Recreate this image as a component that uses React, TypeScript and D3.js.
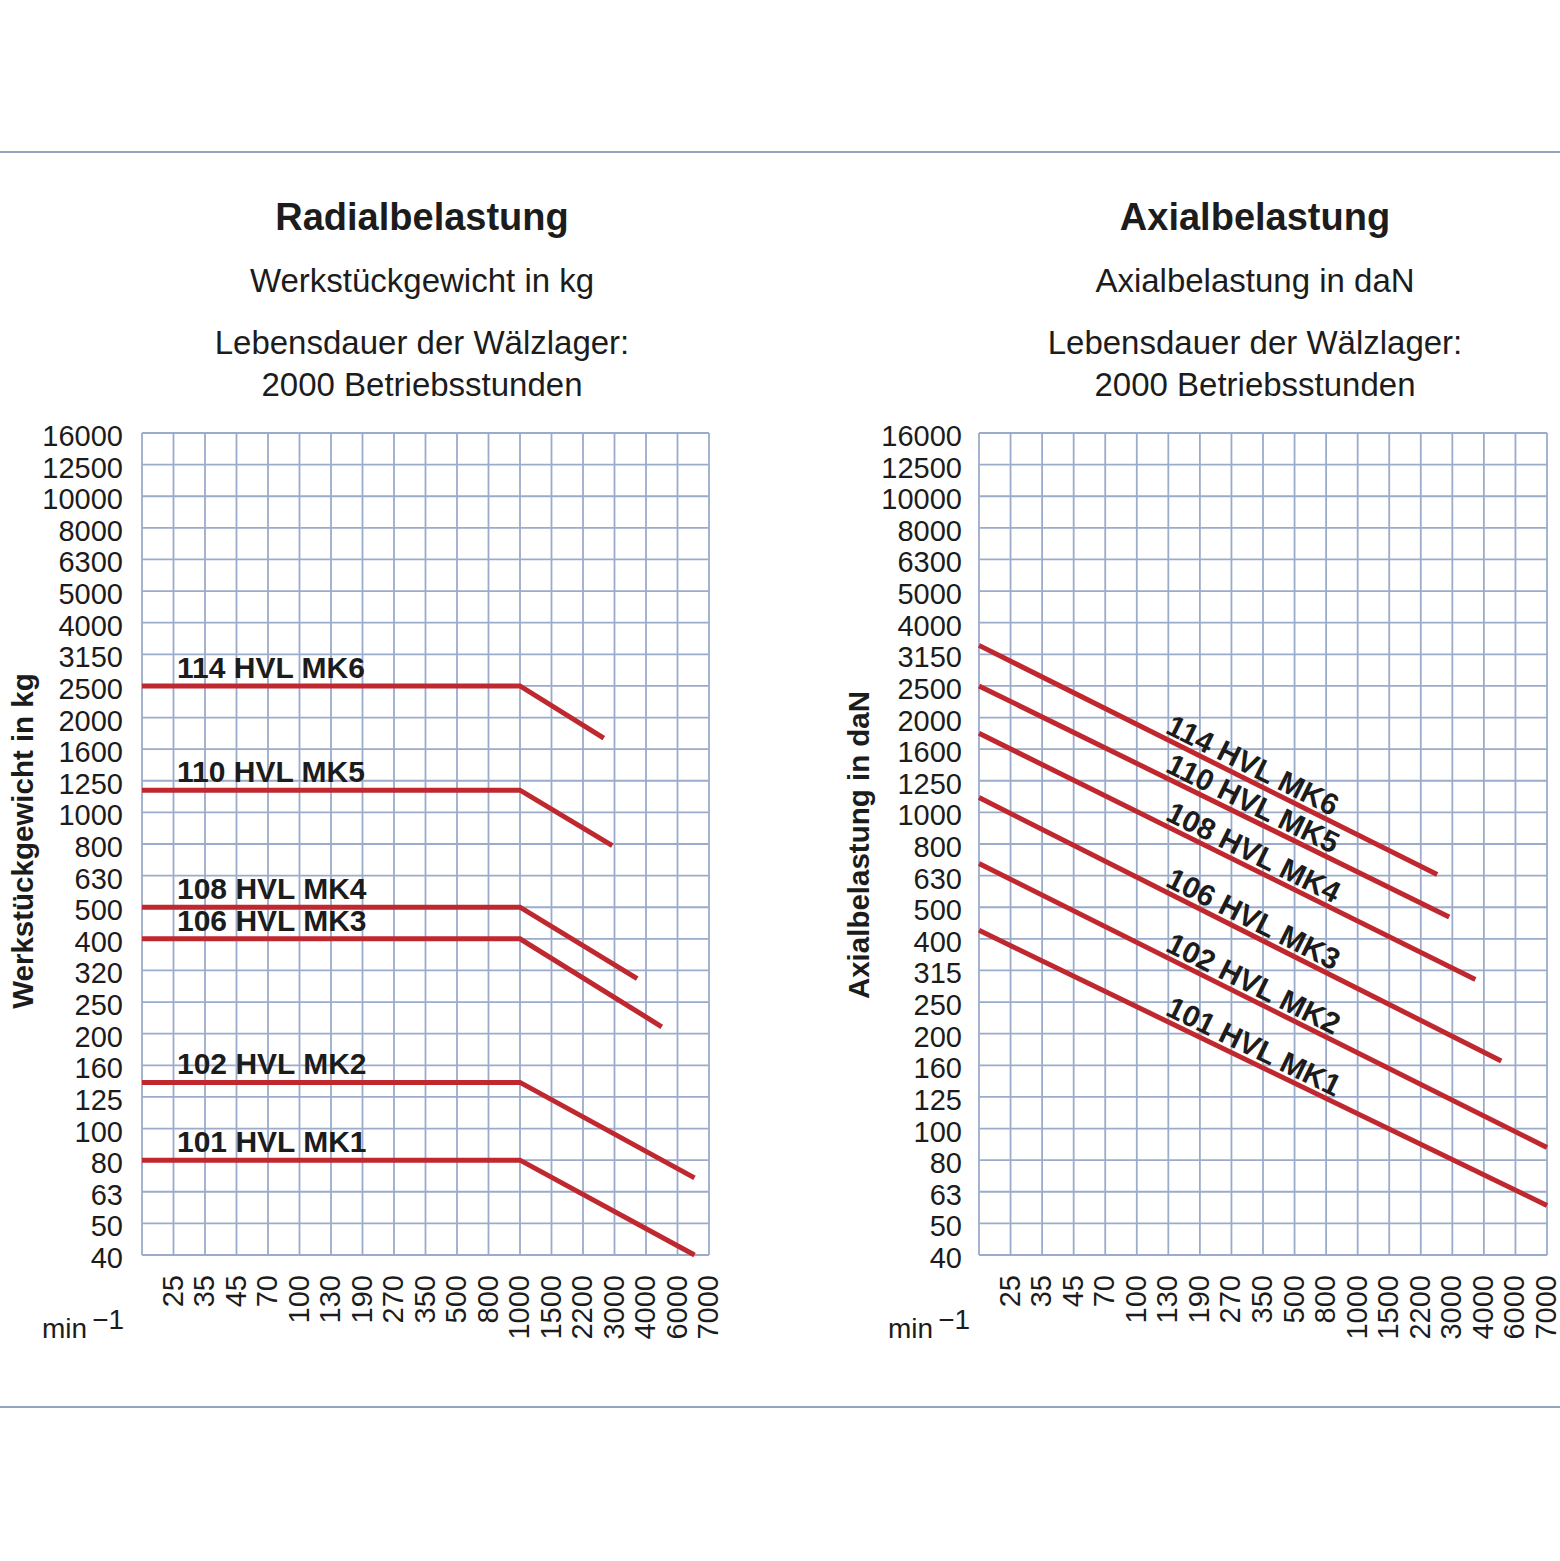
import React from "react";
import * as d3 from "d3";

// ---------- data ----------
const rpmLabels = ["25", "35", "45", "70", "100", "130", "190", "270", "350", "500", "800", "1000", "1500", "2200", "3000", "4000", "6000", "7000"];

const radialTicks = [16000, 12500, 10000, 8000, 6300, 5000, 4000, 3150, 2500, 2000, 1600, 1250, 1000, 800, 630, 500, 400, 320, 250, 200, 160, 125, 100, 80, 63, 50, 40];
const axialTicks = [16000, 12500, 10000, 8000, 6300, 5000, 4000, 3150, 2500, 2000, 1600, 1250, 1000, 800, 630, 500, 400, 315, 250, 200, 160, 125, 100, 80, 63, 50, 40];

const seriesNames = ["114 HVL MK6", "110 HVL MK5", "108 HVL MK4", "106 HVL MK3", "102 HVL MK2", "101 HVL MK1"];

// points: [rpm slot (0 = left edge, 1 = "25", ... 18 = "7000"), load]
const radialMK6 = [[0, 2500], [12, 2500], [14.66, 1730]];
const radialMK5 = [[0, 1170], [12, 1170], [14.93, 790]];
const radialMK4 = [[0, 500], [12, 500], [15.72, 300]];
const radialMK3 = [[0, 400], [12, 400], [16.5, 210]];
const radialMK2 = [[0, 140], [12, 140], [17.54, 70]];
const radialMK1 = [[0, 80], [12, 80], [17.54, 40]];

const axialMK6 = [[0, 3370], [14.52, 635]];
const axialMK5 = [[0, 2500], [14.9, 467]];
const axialMK4 = [[0, 1790], [15.73, 295]];
const axialMK3 = [[0, 1110], [16.55, 165]];
const axialMK2 = [[0, 690], [18, 87.5]];
const axialMK1 = [[0, 425], [18, 57]];

const radialSeries = [radialMK6, radialMK5, radialMK4, radialMK3, radialMK2, radialMK1];
const axialSeries = [axialMK6, axialMK5, axialMK4, axialMK3, axialMK2, axialMK1];

// ---------- style ----------
const W = 1560;
const H = 1561;
const FONT = "'Liberation Sans', Arial, Helvetica, sans-serif";
const RED = "#c0282f";
const GRID = "#9babca";
const TEXT = "#1c1c1c";
const SEP = "#95a3bf";

type PanelProps = {
  left: number;
  right: number;
  top: number;
  bottom: number;
  ticks: number[];
  series: number[][][];
  slanted: boolean;
  cx: number;
  title: string;
  subtitle: string;
  axisTitle: string;
  axisTitleX: number;
  axisTitleY: number;
  yLabelX: number;
  minX: number;
};

function Panel(p: PanelProps) {
  const x = d3.scaleLinear().domain([0, rpmLabels.length]).range([p.left, p.right]);
  const y = d3
    .scaleLog()
    .domain(p.ticks)
    .range(p.ticks.map((_, i) => p.top + (i * (p.bottom - p.top)) / (p.ticks.length - 1)));
  const line = d3
    .line<number[]>()
    .x((d) => x(d[0]))
    .y((d) => y(d[1]));
  const slots = d3.range(0, rpmLabels.length + 1);

  return (
    <g>
      {/* titles */}
      <text x={p.cx} y={230} textAnchor="middle" fontFamily={FONT} fontWeight="bold" fontSize={38} fill={TEXT}>
        {p.title}
      </text>
      <text x={p.cx} y={292} textAnchor="middle" fontFamily={FONT} fontSize={33} fill={TEXT}>
        {p.subtitle}
      </text>
      <text x={p.cx} y={354} textAnchor="middle" fontFamily={FONT} fontSize={33} fill={TEXT}>
        Lebensdauer der Wälzlager:
      </text>
      <text x={p.cx} y={396} textAnchor="middle" fontFamily={FONT} fontSize={33} fill={TEXT}>
        2000 Betriebsstunden
      </text>

      {/* grid */}
      {slots.map((s) => (
        <line key={"v" + s} x1={x(s)} x2={x(s)} y1={p.top} y2={p.bottom} stroke={GRID} strokeWidth={1.8} />
      ))}
      {p.ticks.map((t) => (
        <line key={"h" + t} x1={p.left} x2={p.right} y1={y(t)} y2={y(t)} stroke={GRID} strokeWidth={1.8} />
      ))}

      {/* y tick labels */}
      {p.ticks.map((t) => (
        <text key={"yl" + t} x={p.yLabelX} y={y(t) + 13} textAnchor="end" fontFamily={FONT} fontSize={29} fill={TEXT}>
          {String(t)}
        </text>
      ))}

      {/* x tick labels */}
      {rpmLabels.map((lab, i) => {
        const lx = x(i + 1) + 9;
        const ly = 1275;
        return (
          <text
            key={"xl" + lab}
            x={lx}
            y={ly}
            transform={`rotate(-90 ${lx} ${ly})`}
            textAnchor="end"
            fontFamily={FONT}
            fontSize={29}
            fill={TEXT}
          >
            {lab}
          </text>
        );
      })}

      {/* unit */}
      <text x={p.minX} y={1338} fontFamily={FONT} fontSize={28} fill={TEXT}>
        min
        <tspan dx={5} dy={-9}>
          −1
        </tspan>
      </text>

      {/* axis title */}
      <text
        x={p.axisTitleX}
        y={p.axisTitleY}
        transform={`rotate(-90 ${p.axisTitleX} ${p.axisTitleY})`}
        textAnchor="middle"
        fontFamily={FONT}
        fontWeight="bold"
        fontSize={29.5}
        fill={TEXT}
      >
        {p.axisTitle}
      </text>

      {/* series */}
      {p.series.map((s, i) => (
        <path key={"s" + i} d={line(s) || ""} fill="none" stroke={RED} strokeWidth={5} strokeLinejoin="miter" />
      ))}

      {/* series labels */}
      {p.series.map((s, i) => {
        if (!p.slanted) {
          return (
            <text
              key={"lab" + i}
              x={x(0) + 35}
              y={y(s[0][1]) - 8}
              fontFamily={FONT}
              fontWeight="bold"
              fontSize={30}
              fill={TEXT}
            >
              {seriesNames[i]}
            </text>
          );
        }
        const a = s[0];
        const b = s[s.length - 1];
        const ax = x(a[0]);
        const ay = y(a[1]);
        const bx = x(b[0]);
        const by = y(b[1]);
        const px = x(5.8);
        const py = ay + ((by - ay) * (px - ax)) / (bx - ax);
        const ang = (Math.atan2(by - ay, bx - ax) * 180) / Math.PI;
        return (
          <text
            key={"lab" + i}
            transform={`translate(${px} ${py}) rotate(${ang})`}
            x={0}
            y={-5}
            fontFamily={FONT}
            fontWeight="bold"
            fontSize={30}
            fill={TEXT}
          >
            {seriesNames[i]}
          </text>
        );
      })}
    </g>
  );
}

export default function App() {
  return (
    <div style={{ position: "absolute", left: 0, top: 0, width: W, height: H, background: "#fff" }}>
      <svg width={W} height={H} viewBox={`0 0 ${W} ${H}`} style={{ display: "block" }}>
        <rect x={0} y={0} width={W} height={H} fill="#fff" />
        <line x1={0} x2={W} y1={152} y2={152} stroke={SEP} strokeWidth={2} />
        <line x1={0} x2={W} y1={1407} y2={1407} stroke={SEP} strokeWidth={2} />
        <Panel
          left={142}
          right={709}
          top={433}
          bottom={1255}
          ticks={radialTicks}
          series={radialSeries}
          slanted={false}
          cx={422}
          title="Radialbelastung"
          subtitle="Werkstückgewicht in kg"
          axisTitle="Werkstückgewicht in kg"
          axisTitleX={33}
          axisTitleY={841}
          yLabelX={123}
          minX={42}
        />
        <Panel
          left={979}
          right={1547}
          top={433}
          bottom={1255}
          ticks={axialTicks}
          series={axialSeries}
          slanted={true}
          cx={1255}
          title="Axialbelastung"
          subtitle="Axialbelastung in daN"
          axisTitle="Axialbelastung in daN"
          axisTitleX={869}
          axisTitleY={845}
          yLabelX={962}
          minX={888}
        />
      </svg>
    </div>
  );
}
